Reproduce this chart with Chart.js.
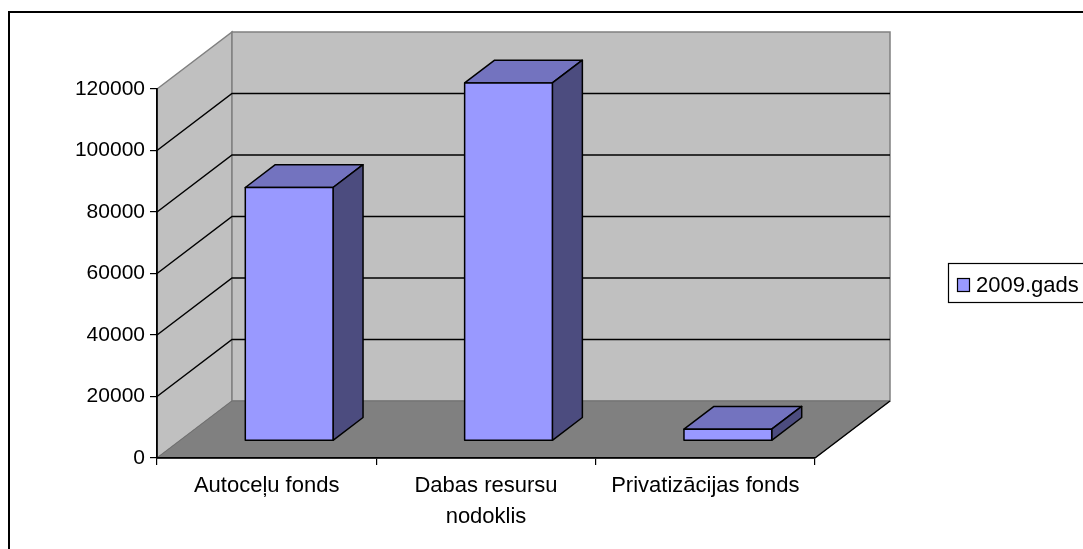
<!DOCTYPE html>
<html>
<head>
<meta charset="utf-8">
<script src="https://cdn.jsdelivr.net/npm/chart.js@4"></script>
<style>
  html, body { margin: 0; padding: 0; background: #fff; overflow: hidden; }
  canvas { display: block; }
</style>
</head>
<body>
<canvas id="chart" width="1083" height="549"></canvas>
<script>
const categories = ["Autoceļu fonds", ["Dabas resursu", "nodoklis"], "Privatizācijas fonds"];
const seriesName = "2009.gads";
const values2009 = [82400, 116400, 3800];
const yTickValues = [0, 20000, 40000, 60000, 80000, 100000, 120000];

const FONT = "'Liberation Sans', Arial, sans-serif";
const DEPTH = { x: 75, y: -57 };      // front plane -> back wall
const BAR_FRONT = 0.3, BAR_DEPTH = 0.4; // bar position inside the depth

function poly(ctx, pts, fill, stroke, lw) {
    ctx.beginPath();
    ctx.moveTo(pts[0][0], pts[0][1]);
    for (let i = 1; i < pts.length; i++) ctx.lineTo(pts[i][0], pts[i][1]);
    ctx.closePath();
    if (fill) { ctx.fillStyle = fill; ctx.fill(); }
    if (stroke) { ctx.strokeStyle = stroke; ctx.lineWidth = lw || 1; ctx.stroke(); }
}

// ---------- walls, floor, 3d bars, legend ----------
const box3d = {
    id: "box3d",
    beforeDraw(chart) {
        const ctx = chart.ctx;
        const a = chart.chartArea;
        const yS = chart.scales.y;
        const dx = DEPTH.x, dy = DEPTH.y;
        ctx.save();
        ctx.fillStyle = "#fff";
        ctx.fillRect(0, 0, chart.width, chart.height);
        ctx.strokeStyle = "#000";
        ctx.lineWidth = 2;
        ctx.strokeRect(9, 12, chart.width + 20, chart.height + 20);

        poly(ctx, [[a.left, a.top], [a.left + dx, a.top + dy], [a.left + dx, a.bottom + dy], [a.left, a.bottom]], "#C0C0C0", "#808080", 1.5);
        poly(ctx, [[a.left + dx, a.top + dy], [a.right + dx, a.top + dy], [a.right + dx, a.bottom + dy], [a.left + dx, a.bottom + dy]], "#C0C0C0", "#808080", 1.5);
        poly(ctx, [[a.left, a.bottom], [a.right, a.bottom], [a.right + dx, a.bottom + dy], [a.left + dx, a.bottom + dy]], "#808080", "#707070", 1);

        ctx.strokeStyle = "#000";
        ctx.lineWidth = 1.5;
        yS.ticks.forEach(t => {
            if (t.value <= yS.min || t.value >= yS.max) return;
            const py = yS.getPixelForValue(t.value);
            ctx.beginPath();
            ctx.moveTo(a.left, py);
            ctx.lineTo(a.left + dx, py + dy);
            ctx.lineTo(a.right + dx, py + dy);
            ctx.stroke();
        });
        ctx.beginPath();
        ctx.moveTo(a.right, a.bottom);
        ctx.lineTo(a.right + dx, a.bottom + dy);
        ctx.stroke();
        ctx.restore();
    },
    beforeDatasetsDraw(chart) {
        const ctx = chart.ctx;
        const ox = DEPTH.x * BAR_FRONT, oy = DEPTH.y * BAR_FRONT;
        const bx = DEPTH.x * BAR_DEPTH, by = DEPTH.y * BAR_DEPTH;
        ctx.save();
        ctx.lineJoin = "round";
        chart.data.datasets.forEach((ds, i) => {
            chart.getDatasetMeta(i).data.forEach(bar => {
                const p = bar.getProps(["x", "y", "base", "width"], true);
                const x1 = p.x - p.width / 2 + ox, x2 = p.x + p.width / 2 + ox;
                const yt = p.y + oy, yb = p.base + oy;
                poly(ctx, [[x1, yt], [x2, yt], [x2 + bx, yt + by], [x1 + bx, yt + by]], "#7373BF", "#000", 1.5);
                poly(ctx, [[x2, yt], [x2 + bx, yt + by], [x2 + bx, yb + by], [x2, yb]], "#4C4C7F", "#000", 1.5);
                poly(ctx, [[x1, yt], [x2, yt], [x2, yb], [x1, yb]], ds.backgroundColor, "#000", 1.5);
            });
        });
        ctx.restore();
        return false;
    },
    afterDraw(chart) {
        const ctx = chart.ctx;
        const ds = chart.data.datasets[0];
        ctx.save();
        ctx.fillStyle = "#fff";
        ctx.fillRect(948, 263, 200, 39);
        ctx.strokeStyle = "#000";
        ctx.lineWidth = 1.2;
        ctx.strokeRect(948.5, 263.5, 200, 39);
        ctx.fillStyle = ds.backgroundColor;
        ctx.fillRect(957.5, 278.5, 12, 13);
        ctx.strokeRect(957.5, 278.5, 12, 13);
        ctx.fillStyle = "#000";
        ctx.font = "22px " + FONT;
        ctx.textBaseline = "middle";
        ctx.fillText(ds.label, 976, 286);
        ctx.restore();
    }
};

Chart.defaults.font.family = FONT;
Chart.defaults.font.size = 21;
Chart.defaults.color = "#000";

new Chart(document.getElementById("chart"), {
    type: "bar",
    data: {
        labels: categories,
        datasets: [{
            label: seriesName,
            data: values2009,
            backgroundColor: "#9999FF",
            categoryPercentage: 1,
            barPercentage: 0.4
        }]
    },
    options: {
        responsive: false,
        animation: false,
        devicePixelRatio: 1,
        layout: { padding: { left: 0, top: 89, right: 268, bottom: 0 } },
        plugins: { legend: { display: false }, tooltip: { enabled: false } },
        scales: {
            x: {
                offset: true,
                grid: { offset: true, drawOnChartArea: false, drawTicks: true, tickLength: 7, color: "#000", lineWidth: 1.2 },
                border: { display: true, color: "#000", width: 1.8 },
                ticks: { padding: 6, maxRotation: 0, autoSkip: false, font: { size: 22, lineHeight: 1.4 } },
                afterFit(scale) { scale.height = 91; }
            },
            y: {
                min: 0,
                max: 120000,
                afterBuildTicks(scale) { scale.ticks = yTickValues.map(v => ({ value: v })); },
                grid: { drawOnChartArea: false, drawTicks: true, tickLength: 7, color: "#000", lineWidth: 1.2 },
                border: { display: true, color: "#000", width: 1.8 },
                ticks: { padding: 5, callback: v => String(v) },
                afterFit(scale) { scale.width = 157; }
            }
        }
    },
    plugins: [box3d]
});
</script>
</body>
</html>
